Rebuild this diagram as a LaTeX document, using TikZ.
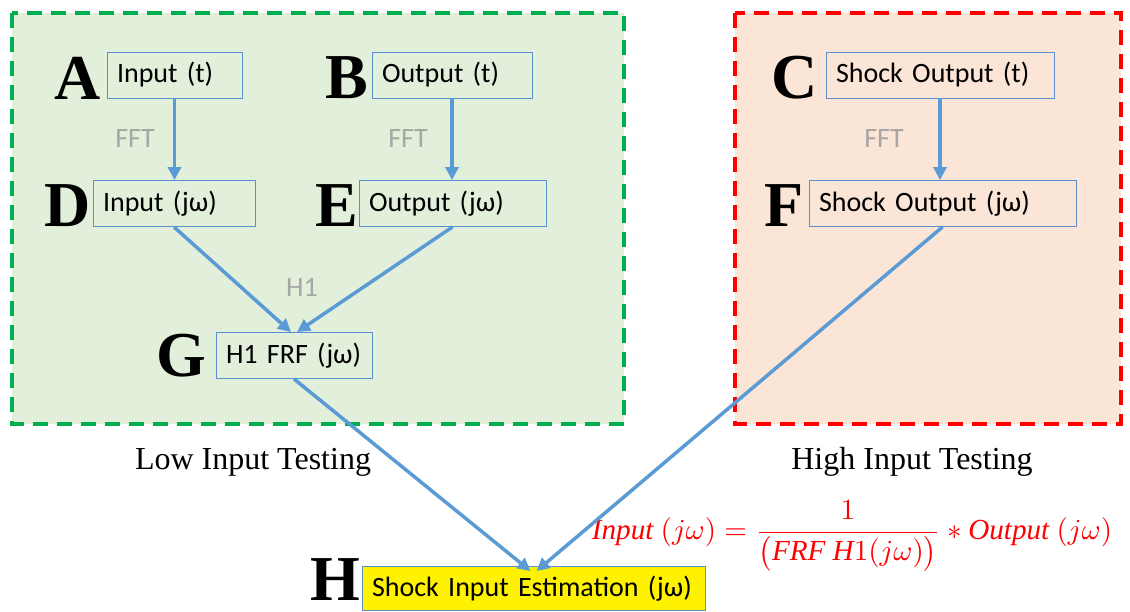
\documentclass[tikz,border=0pt]{standalone}
\usepackage{amsmath}
\usepackage{fontspec}
\usepackage{graphicx}
\setmainfont{Liberation Serif}
\newfontfamily\carlito[WordSpace=0.7]{Carlito}
\usetikzlibrary{arrows.meta}
\definecolor{boxblue}{HTML}{5B8FD0}
\definecolor{arrblue}{HTML}{5B9BD5}
\definecolor{grnfill}{HTML}{E2EFDA}
\definecolor{grnline}{HTML}{00B050}
\definecolor{redfill}{HTML}{FBE5D6}
\definecolor{labgray}{HTML}{A6A6A6}
\tikzset{
  stepbox/.style={draw=boxblue, line width=0.9pt, inner xsep=10pt, inner ysep=0pt, align=left,
    minimum height=46pt, font=\carlito\fontsize{28}{31}\selectfont, text=black},
  biglet/.style={font=\bfseries\fontsize{64}{64}\selectfont, inner sep=0pt},
  conn/.style={draw=arrblue, line width=3.5pt, -{Triangle[length=13pt,width=13pt]}},
  graylab/.style={font=\carlito\fontsize{28}{31}\selectfont, text=labgray, inner sep=0pt},
  grouplab/.style={font=\fontsize{32}{35}\selectfont, inner sep=0pt},
  grp/.style={line width=4pt, dash pattern=on 15pt off 9pt}
}
\begin{document}
\begin{tikzpicture}[x=1pt,y=-1pt]
\useasboundingbox (0,0) rectangle (1130,611);
% group boxes
\draw[grp, draw=grnline, fill=grnfill] (12,13) rectangle (624,424);
\draw[grp, draw=red, fill=redfill] (735,13) rectangle (1121,424);
% boxes
\node[stepbox, text width=115pt] (A) at (174.5,75) {Input (t)};
\node[stepbox, text width=140pt] (B) at (452,75) {Output (t)};
\node[stepbox, text width=208pt] (C) at (940,75) {Shock Output (t)};
\node[stepbox, text width=142pt] (D) at (174,203.5) {Input (jω)};
\node[stepbox, text width=167pt] (E) at (452.5,203.5) {Output (jω)};
\node[stepbox, text width=247pt] (F) at (942.5,203.5) {Shock Output (jω)};
\node[stepbox, text width=136pt] (G) at (294,355.5) {H1 FRF (jω)};
\node[stepbox, text width=323pt, fill=yellow, minimum height=44pt] (H) at (533.5,588.5) {Shock Input Estimation (jω)};
% letters
\node[biglet] (lA) at (78,78) {A};
\node[biglet] (lB) at (347,78) {B};
\node[biglet] (lC) at (795,78) {C};
\node[biglet] (lD) at (68,206) {D};
\node[biglet] (lE) at (337,206) {E};
\node[biglet] (lF) at (784,206) {F};
\node[biglet] (lG) at (181,356) {G};
\node[biglet] (lH) at (335,580) {H};
% labels
\node[graylab] (f1) at (135,139) {FFT};
\node[graylab] (f2) at (408,139) {FFT};
\node[graylab] (f3) at (884,139) {FFT};
\node[graylab] (h1) at (302,287) {H1};
\node[grouplab] (low) at (253,462) {Low Input Testing};
\node[grouplab] (high) at (912,462) {High Input Testing};
\node[text=red, inner sep=0pt] (eq) at (852,536) {\resizebox{520pt}{!}{$\mathit{Input}\ (j\omega)=\dfrac{1}{\bigl(\mathit{FRF}\ \mathit{H}1(j\omega)\bigr)}*\mathit{Output}\ (j\omega)$}};
% connectors
\draw[conn] (A.south) -- (A.south |- D.north);
\draw[conn] (B.south) -- (B.south |- E.north);
\draw[conn] (C.south) -- (C.south |- F.north);
\draw[conn] (D.south) -- ([xshift=-3pt]G.north);
\draw[conn] (E.south) -- ([xshift=3pt]G.north);
\draw[conn] (G.south) -- ([xshift=-3pt,yshift=-5pt]H.north);
\draw[conn] (F.south) -- ([xshift=3pt,yshift=-5pt]H.north);
\end{tikzpicture}
\end{document}
